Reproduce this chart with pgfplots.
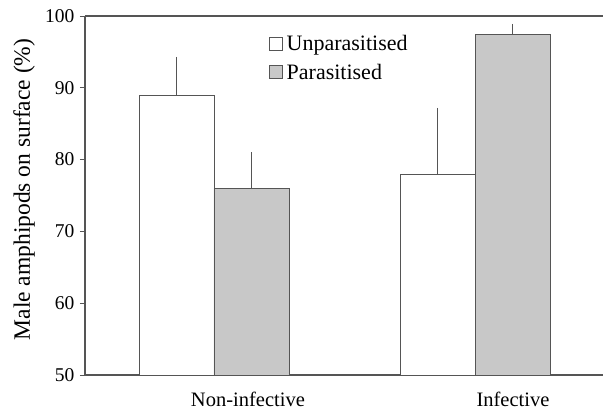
\documentclass[border=0pt]{standalone}
\usepackage{pgfplots}
\pgfplotsset{compat=1.18}
\usepackage{fontspec}
\setmainfont{Liberation Serif}

\definecolor{barfill}{RGB}{200,200,200}
\definecolor{linegray}{RGB}{85,85,85}

\begin{document}
\begin{tikzpicture}
\begin{axis}[
    scale only axis,
    width=518pt, height=359pt,
    xmin=-0.494, xmax=1.49,
    ymin=50, ymax=100,
    ytick={50,60,70,80,90,100},
    xtick={0.13,1.145},
    xticklabels={Non-infective,Infective},
    /pgf/number format/assume math mode=true,
    axis x line=box, axis y line=left,
    x axis line style={-}, y axis line style={-},
    axis line style={linegray, line width=1.1pt},
    x tick style={draw=none},
    y tick style={linegray, line width=0.8pt},
    tick align=outside, major tick length=5pt,
    yticklabel style={font=\fontsize{19.5}{19.5}\selectfont, xshift=-2pt},
    xticklabel style={font=\fontsize{20.5}{20.5}\selectfont, yshift=-9pt},
    ylabel={Male amphipods on surface (\%)},
    every axis y label/.style={at={(rel axis cs:0,0.5)}, xshift=-61pt, yshift=6pt,
        rotate=90, anchor=center, font=\fontsize{23.5}{23.5}\selectfont},
    ybar=0pt, bar width=0.287,
    legend style={draw=none, fill=none, at={(rel axis cs:0.355,0.953)}, anchor=north west,
        font=\fontsize{22}{22}\selectfont, row sep=8pt, inner sep=0pt,
        nodes={inner xsep=4pt}},
    legend cell align=left,
    legend image code/.code={\draw[#1, line width=0.6pt] (0pt,-6.5pt) rectangle (13pt,6.5pt);},
]
\addplot[draw=linegray, line width=0.7pt, fill=white,
    error bars/.cd, y dir=plus, y explicit, error mark=none,
    error bar style={linegray, line width=0.8pt}]
    coordinates {(0,89.0) +- (0,5.3) (1,78.0) +- (0,9.2)};
\addplot[draw=linegray, line width=0.7pt, fill=barfill,
    error bars/.cd, y dir=plus, y explicit, error mark=none,
    error bar style={linegray, line width=0.8pt}]
    coordinates {(0,76.0) +- (0,5.0) (1,97.4) +- (0,1.5)};
\legend{Unparasitised,Parasitised}
\coordinate (sw) at (rel axis cs:0,0);
\coordinate (ne) at (rel axis cs:1,1);
\end{axis}
\pgfresetboundingbox
\path ([shift={(-85pt,-39pt)}]sw) rectangle ([shift={(0pt,16pt)}]ne);
\end{tikzpicture}
\end{document}
